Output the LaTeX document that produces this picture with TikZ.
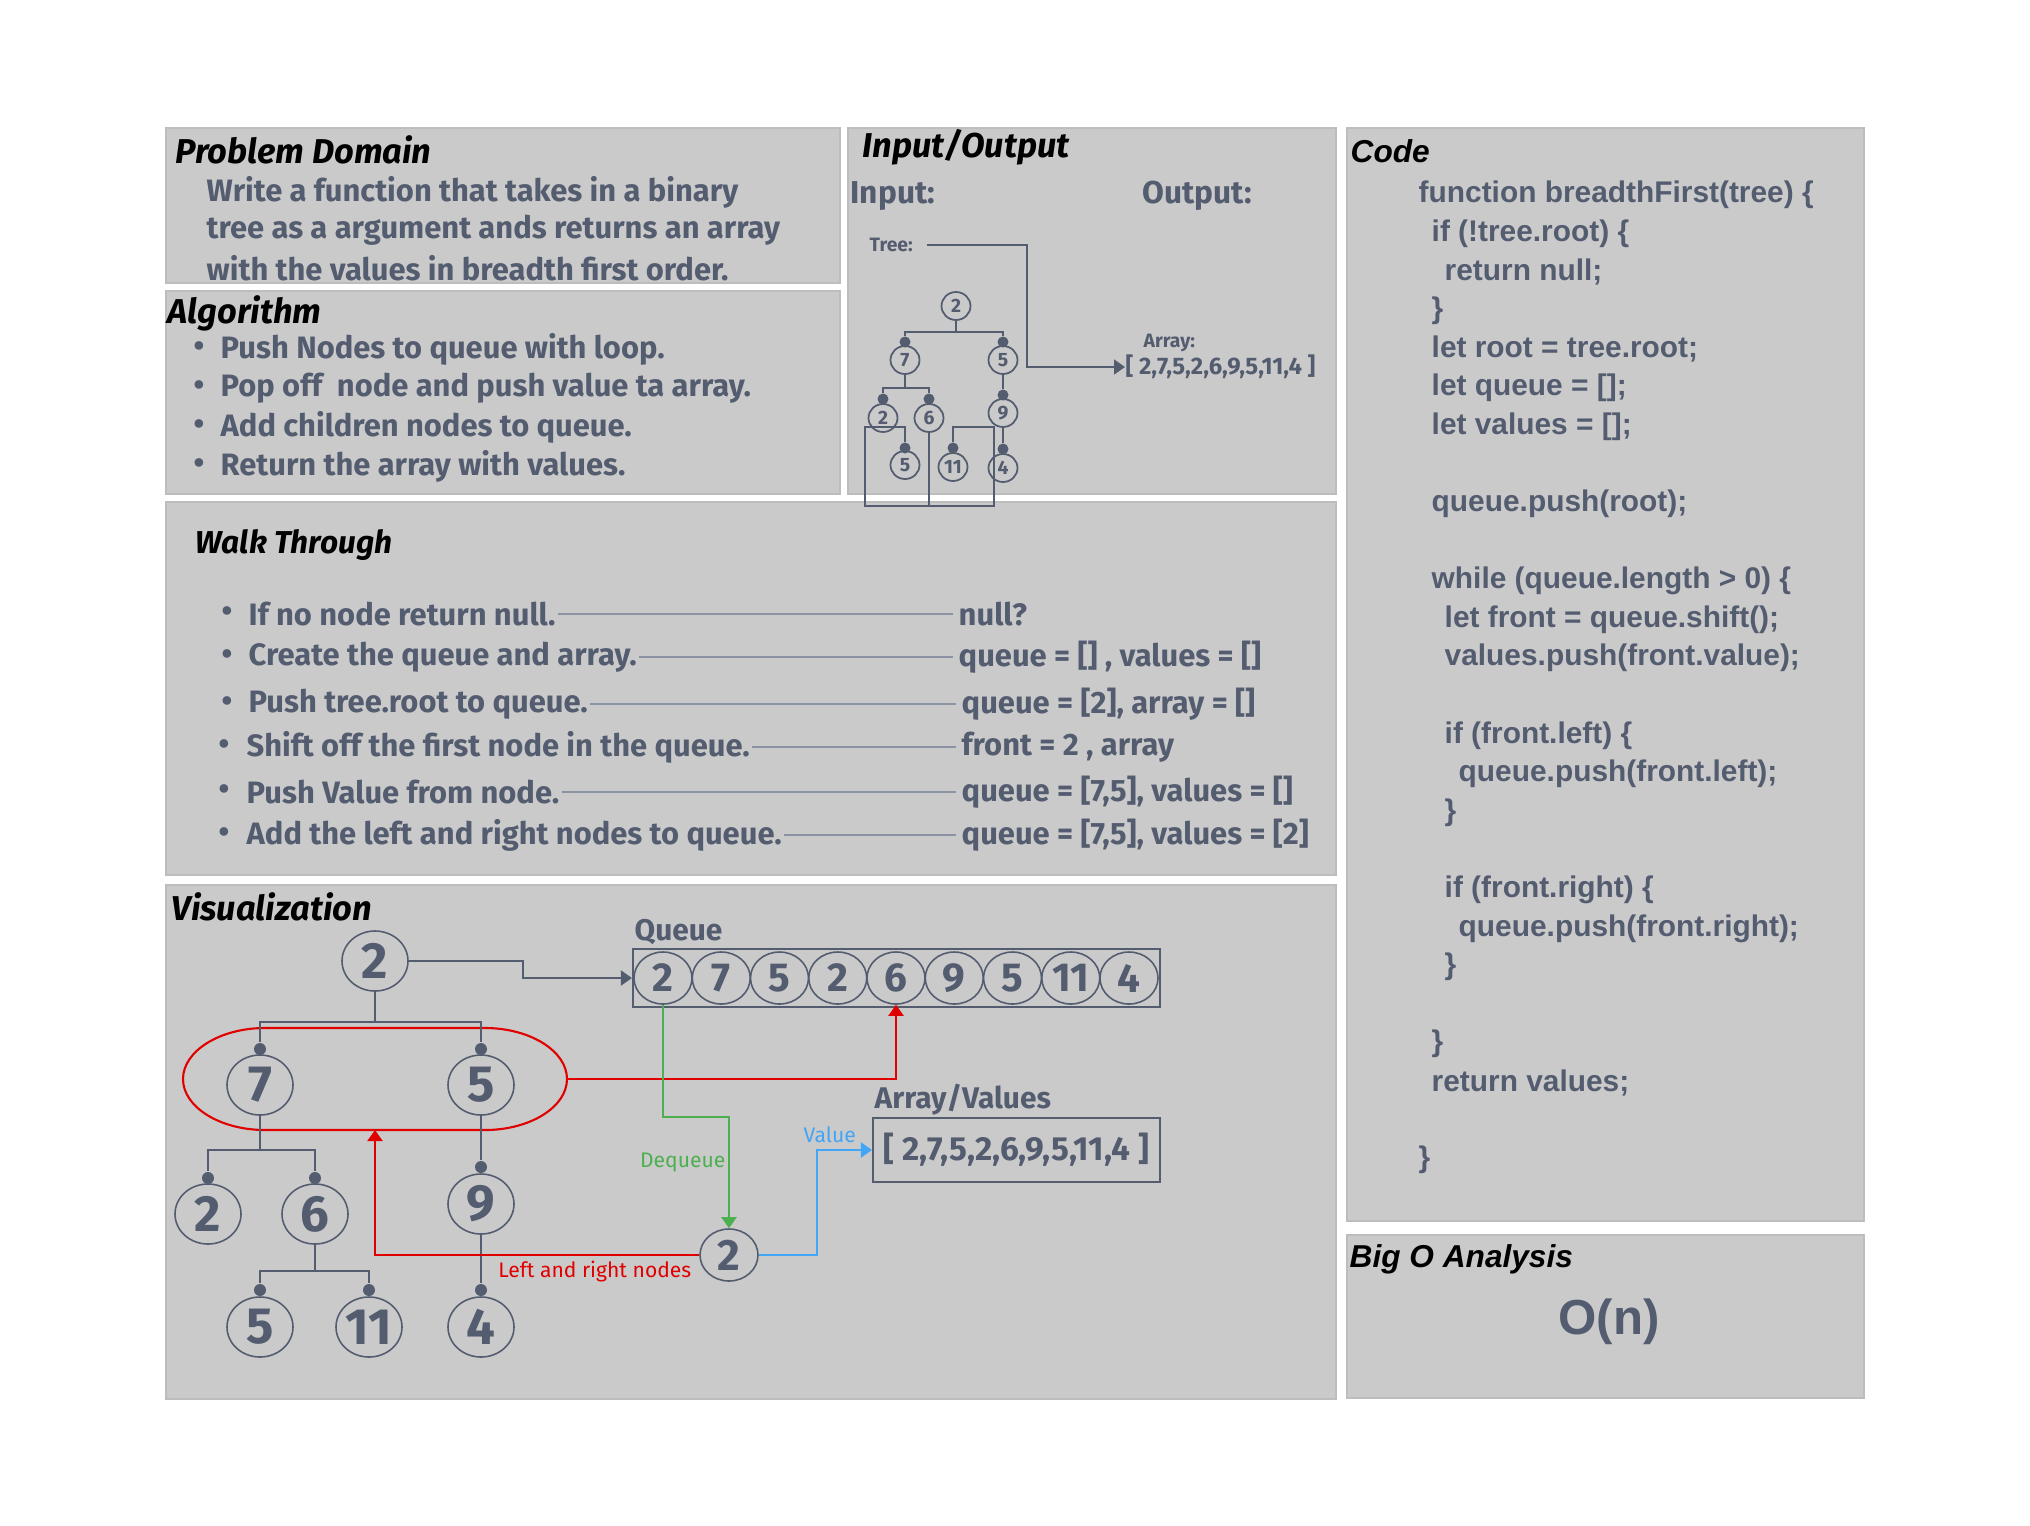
\documentclass[tikz,border=0pt]{standalone}
\usepackage{fontspec}
\setmainfont{Fira Sans}
\newfontfamily\arialf{Liberation Sans}
\usetikzlibrary{arrows.meta,shapes.geometric}
\definecolor{panel}{HTML}{CACACA}
\definecolor{pedge}{HTML}{BDBDBD}
\definecolor{slate}{HTML}{545C70}
\definecolor{wl}{HTML}{8A92A3}
\definecolor{rd}{HTML}{E00000}
\definecolor{gr}{HTML}{4CAF50}
\definecolor{bl}{HTML}{42A5F5}
\tikzset{
  panelbox/.style={fill=panel, draw=pedge, line width=0.6pt},
  ttl/.style={font=\fontsize{9.8}{11}\selectfont\bfseries\itshape, text=black, anchor=west, inner sep=0pt},
  attl/.style={font=\arialf\fontsize{9}{11}\selectfont\bfseries\itshape, text=black, anchor=west, inner sep=0pt},
  body/.style={font=\fontsize{8.8}{10}\selectfont\bfseries, text=slate, anchor=west, inner sep=0pt},
  codeln/.style={font=\arialf\fontsize{8.5}{10}\selectfont\bfseries, text=slate, anchor=west, inner sep=0pt},
  tline/.style={draw=slate, line width=0.45pt},
  vnode/.style={ellipse, draw=slate, line width=0.45pt, minimum width=6.6mm, minimum height=6mm, inner sep=0pt, text=slate, font=\fontsize{14.5}{15}\selectfont\bfseries},
  qnode/.style={vnode, minimum width=5.8mm, minimum height=5.2mm, font=\fontsize{11.5}{12}\selectfont\bfseries},
  dqnode/.style={vnode, minimum width=5.8mm, minimum height=5.2mm, font=\fontsize{12.5}{13}\selectfont\bfseries},
  mnode/.style={vnode, line width=0.5pt, minimum width=2.9mm, minimum height=2.8mm, font=\fontsize{5.5}{6}\selectfont\bfseries},
  tdot/.style={circle, fill=slate, inner sep=0pt, minimum size=1.2mm},
  mdot/.style={tdot, minimum size=1.1mm},
  arrtip/.style={-{Triangle[length=1.1mm,width=1.5mm]}},
  wline/.style={draw=wl, line width=0.5pt},
  lbl/.style={font=\fontsize{6}{7}\selectfont, inner sep=0pt},
}
\begin{document}
\begin{tikzpicture}[x=0.1mm,y=-0.1mm]
\useasboundingbox (0,0) rectangle (2030,1525);
\fill[white] (0,0) rectangle (2030,1525);

% panels
\draw[panelbox] (166,128) rectangle (840,283);
\draw[panelbox] (166,291) rectangle (840,494);
\draw[panelbox] (848,128) rectangle (1336,494);
\draw[panelbox] (166,502) rectangle (1336,875);
\draw[panelbox] (166,885) rectangle (1336,1399);
\draw[panelbox] (1347,128) rectangle (1864,1221);
\draw[panelbox] (1347,1235) rectangle (1864,1398);

% Problem Domain
\node[ttl] (pdt) at (175,150) {Problem Domain};
\node[body] (pd1) at (206,192) {Write a function that takes in a binary};
\node[body] (pd2) at (206,230) {tree as a argument ands returns an array};
\node[body] (pd3) at (206,268) {with the values in breadth first order.};

% Algorithm
\node[ttl] (alt) at (167,313) {Algorithm};
\node[body] (ab1) at (193,349) {•};
\node[body] (al1) at (220,349) {Push Nodes to queue with loop.};
\node[body] (ab2) at (193,388) {•};
\node[body] (al2) at (220,388) {Pop off\ \ node and push value ta array.};
\node[body] (ab3) at (193,427) {•};
\node[body] (al3) at (220,427) {Add children nodes to queue.};
\node[body] (ab4) at (193,466) {•};
\node[body] (al4) at (220,466) {Return the array with values.};

% Walk Through
\node[ttl, font=\fontsize{9}{11}\selectfont\bfseries\itshape] (wtt) at (195,545) {Walk Through};
\node[body] (wb1) at (221,614) {•};
\node[body] (w1) at (248,614) {If no node return null.};
\node[body] (v1) at (958,614) {null?};
\node[body] (wb2) at (221,657) {•};
\node[body] (w2) at (248,657) {Create the queue and array.};
\node[body] (v2) at (958,657) {queue = [] , values = []};
\node[body] (wb3) at (221,704) {•};
\node[body] (w3) at (248,704) {Push tree.root to queue.};
\node[body] (v3) at (961,704) {queue = [2], array = []};
\node[body] (wb4) at (218,747) {•};
\node[body] (w4) at (246,747) {Shift off the first node in the queue.};
\node[body] (v4) at (961,747) {front = 2 , array};
\node[body] (wb5) at (218,792) {•};
\node[body] (w5) at (246,792) {Push Value from node.};
\node[body] (v5) at (961,792) {queue = [7,5], values = []};
\node[body] (wb6) at (218,835) {•};
\node[body] (w6) at (246,835) {Add the left and right nodes to queue.};
\node[body] (v6) at (961,835) {queue = [7,5], values = [2]};
\foreach \i in {1,...,6}{
  \draw[wline, shorten <=0.2mm, shorten >=0.5mm] (w\i.east) -- (w\i.east -| v\i.west);
}

% Input / Output
\node[ttl] (iot) at (862,147) {Input/Output};
\node[body, font=\fontsize{9}{10}\selectfont\bfseries] (inl) at (850,196) {Input:};
\node[body, font=\fontsize{9}{10}\selectfont\bfseries] (outl) at (1142,196) {Output:};
\node[body, font=\fontsize{5.5}{6}\selectfont\bfseries] (treel) at (869,245) {Tree:};
\node[body, font=\fontsize{5.5}{6}\selectfont\bfseries] (arrl) at (1143,343) {Array:};
\node[body, font=\fontsize{6.8}{7}\selectfont\bfseries] (ioarr) at (1125,367) {[ 2,7,5,2,6,9,5,11,4 ]};
\coordinate (tk) at (1027,245);
\draw[tline, line width=0.5pt, arrtip, shorten <=1.4mm] (treel.east) -- (tk) |- (ioarr.west);

% mini tree
\node[mnode] (m2) at (956,306) {2};
\node[mnode] (m7) at (905,360) {7};
\node[mnode] (m5) at (1003,360) {5};
\node[mnode] (m2b) at (883,418) {2};
\node[mnode] (m6) at (929,418) {6};
\node[mnode] (m9) at (1003,413) {9};
\node[mnode] (m5b) at (905,465) {5};
\node[mnode] (m11) at (953,467) {11};
\node[mnode] (m4) at (1003,468) {4};
\node[mdot] (md7) at (905,342) {};
\node[mdot] (md5) at (1003,342) {};
\node[mdot] (md2b) at (883,399) {};
\node[mdot] (md6) at (929,399) {};
\node[mdot] (md9) at (1003,395) {};
\node[mdot] (md5b) at (905,448) {};
\node[mdot] (md11) at (953,448) {};
\node[mdot] (md4) at (1003,449) {};
\begin{scope}[tline, line width=0.5pt]
\draw (m2.south) -- (m2.south |- 0,332) -| (md7);
\draw (m2.south |- 0,332) -| (md5);
\draw (m7.south) -- (m7.south |- 0,388) -| (md2b);
\draw (m7.south |- 0,388) -| (md6);
\draw (m5.south) -- (md9);
\draw (m9.south) -- (md4);
\coordinate (mb) at (929,506);
\draw (m6.south) -- (mb) -- (865,506) -- (865,427) -| (md5b);
\draw (mb) -- (994,506) -- (994,427) -| (md11);
\end{scope}

% Code
\node[attl] (codet) at (1350,151) {Code};
\node[codeln] (c0) at (1418,195) {function breadthFirst(tree) \{};
\node[codeln] (c1) at (1431,233.6) {if (!tree.root) \{};
\node[codeln] (c2) at (1444,272.2) {return null;};
\node[codeln] (c3) at (1431,310.8) {\}};
\node[codeln] (c4) at (1431,349.4) {let root = tree.root;};
\node[codeln] (c5) at (1431,388) {let queue = [];};
\node[codeln] (c6) at (1431,426.6) {let values = [];};
\node[codeln] (c8) at (1431,503.8) {queue.push(root);};
\node[codeln] (c10) at (1431,581) {while (queue.length > 0) \{};
\node[codeln] (c11) at (1444,619.6) {let front = queue.shift();};
\node[codeln] (c12) at (1444,658.2) {values.push(front.value);};
\node[codeln] (c14) at (1444,735.4) {if (front.left) \{};
\node[codeln] (c15) at (1458,774) {queue.push(front.left);};
\node[codeln] (c16) at (1444,812.6) {\}};
\node[codeln] (c18) at (1444,889.8) {if (front.right) \{};
\node[codeln] (c19) at (1458,928.4) {queue.push(front.right);};
\node[codeln] (c20) at (1444,967) {\}};
\node[codeln] (c22) at (1431,1044.2) {\}};
\node[codeln] (c23) at (1431,1082.8) {return values;};
\node[codeln] (c25) at (1418,1160) {\}};

% Big O
\node[attl] (bot) at (1349,1259) {Big O Analysis};
\node[codeln, anchor=center, font=\arialf\fontsize{14}{15}\selectfont\bfseries] (on) at (1609,1322) {O(n)};

% Visualization
\node[ttl] (vist) at (171,907) {Visualization};

% red grouping ellipse
\draw[rd, line width=0.6pt] (265,1028) -- (485,1028) .. controls (530,1028) and (567,1051) .. (567,1079) .. controls (567,1107) and (530,1130) .. (485,1130) -- (265,1130) .. controls (220,1130) and (183,1107) .. (183,1079) .. controls (183,1051) and (220,1028) .. (265,1028) -- cycle;
\coordinate (redE) at (567,1079);
\coordinate (redB) at (375,1130);

\node[vnode] (r0) at (375,961) {2};
\node[vnode] (n7) at (260,1085) {7};
\node[vnode] (n5) at (481,1085) {5};
\node[vnode] (n2) at (208,1214) {2};
\node[vnode] (n6) at (315,1214) {6};
\node[vnode] (n9) at (481,1204) {9};
\node[vnode] (n5b) at (260,1327) {5};
\node[vnode] (n11) at (369,1327) {11};
\node[vnode] (n4) at (481,1327) {4};
\node[tdot] (d7) at (260,1049) {};
\node[tdot] (d5) at (481,1049) {};
\node[tdot] (d2) at (208,1178) {};
\node[tdot] (d6) at (315,1178) {};
\node[tdot] (d9) at (481,1167) {};
\node[tdot] (d5b) at (260,1290) {};
\node[tdot] (d11) at (369,1290) {};
\node[tdot] (d4) at (481,1290) {};
\begin{scope}[tline]
\draw (r0.south) -- (r0.south |- 0,1022) -| (d7);
\draw (r0.south |- 0,1022) -| (d5);
\draw (n7.south) -- (n7.south |- 0,1150) -| (d2);
\draw (n7.south |- 0,1150) -| (d6);
\draw (n6.south) -- (n6.south |- 0,1271) -| (d5b);
\draw (n6.south |- 0,1271) -| (d11);
\draw (n5.south) -- (d9);
\draw (n9.south) -- (d4);
\end{scope}

% queue
\node[body, font=\fontsize{8.5}{10}\selectfont\bfseries] (ql) at (634,932) {Queue};
\node[draw=slate, line width=0.6pt, minimum width=52.7mm, minimum height=5.8mm, inner sep=0pt] (qbox) at (896.5,978) {};
\foreach \v [count=\i] in {2,7,5,2,6,9,5,11,4}{
  \node[qnode] (q\i) at ({663+58.25*(\i-1)},978) {\v};
}
\draw[tline, line width=0.6pt, arrtip] (r0.east) -- ++(114,0) |- (qbox.west);

% array / values
\node[body, font=\fontsize{8.5}{10}\selectfont\bfseries] (avl) at (874,1100) {Array/Values};
\node[draw=slate, line width=0.6pt, minimum width=28.7mm, minimum height=6.4mm, inner sep=0pt, text=slate, font=\fontsize{9.5}{10}\selectfont\bfseries] (arrbox) at (1016.5,1150) {[ 2,7,5,2,6,9,5,11,4 ]};

% dequeued node
\node[dqnode] (dq) at (729,1255) {2};

% connectors
\draw[rd, line width=0.6pt, arrtip] (redE) -| (q5.south);
\draw[rd, line width=0.6pt, arrtip] (dq.west) -| (redB);
\draw[gr, line width=0.6pt, arrtip] (q1.south) -- ++(0,112) -| (dq.north);
\draw[bl, line width=0.6pt, arrtip] (dq.east) -- ++(58,0) |- (arrbox.west);

\node[lbl, text=rd, anchor=east] (lrl) at (692,1271) {Left and right nodes};
\node[lbl, text=gr, anchor=east] (dql) at (726,1162) {Dequeue};
\node[lbl, text=bl, anchor=west] (vall) at (803,1135) {Value};
\end{tikzpicture}
\end{document}
